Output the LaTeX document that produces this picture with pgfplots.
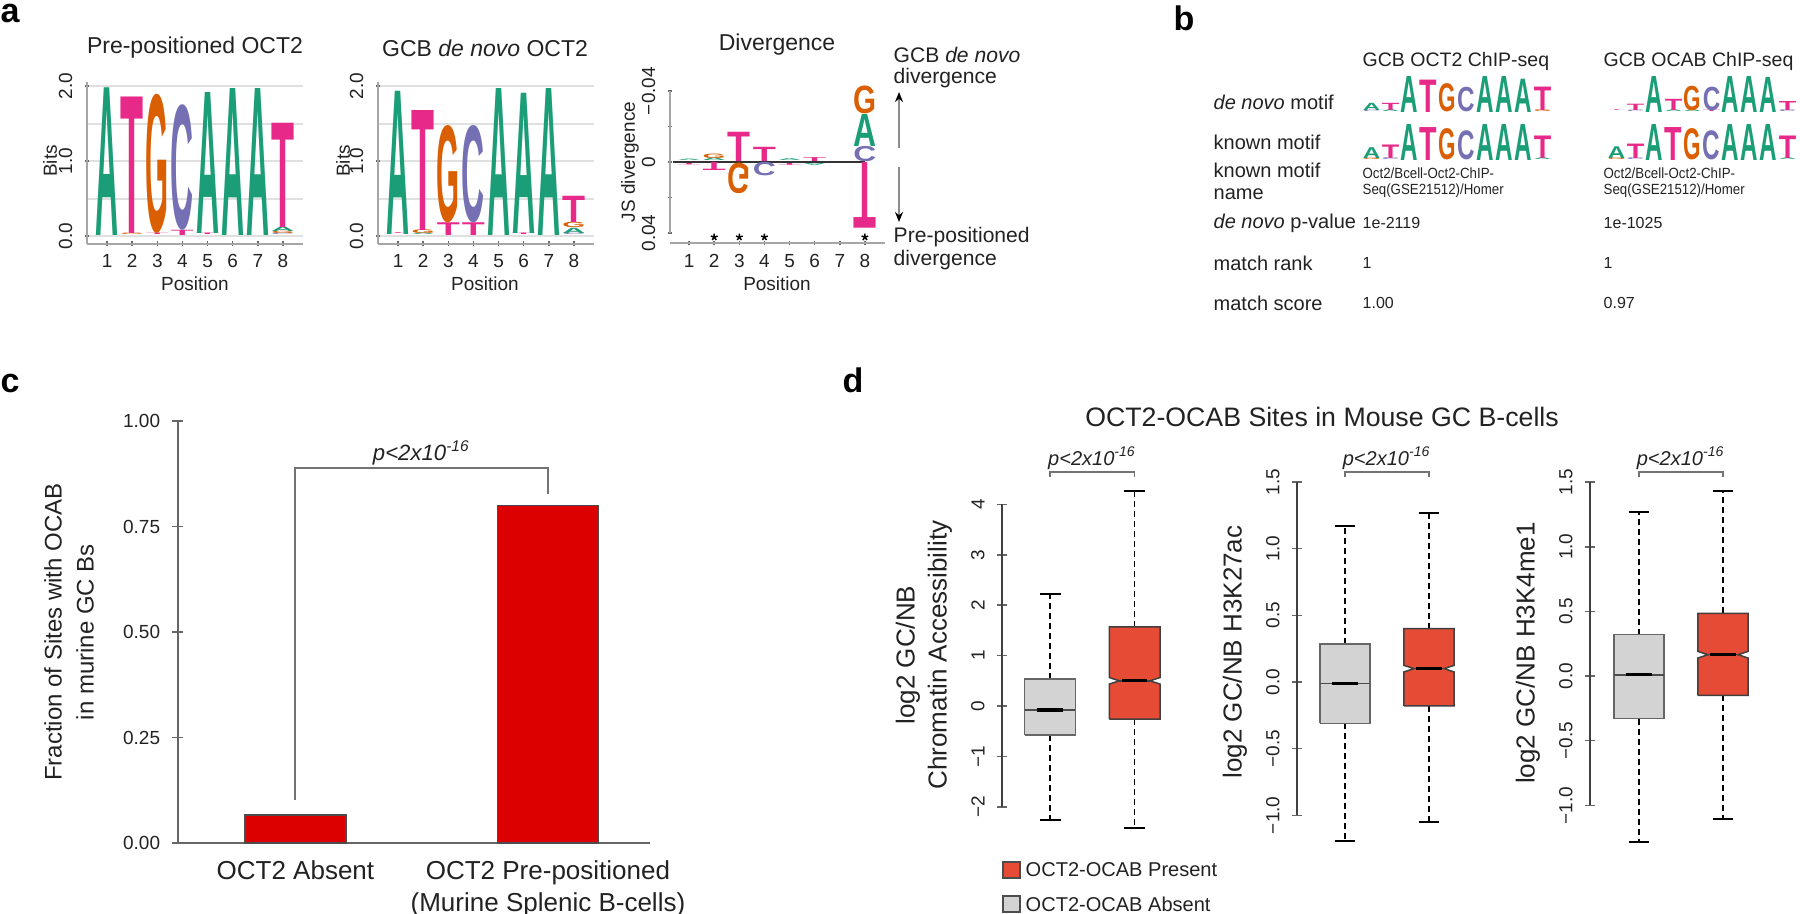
\documentclass[border=0pt]{standalone}
\usepackage{pgfplots}
\pgfplotsset{compat=1.18}
\usepackage{fontspec}
\setmainfont{Liberation Sans}
\usetikzlibrary{arrows.meta}

\definecolor{cA}{HTML}{1B9E77}
\definecolor{cT}{HTML}{E7298A}
\definecolor{cG}{HTML}{D95F02}
\definecolor{cC}{HTML}{7570B3}
\definecolor{barred}{HTML}{DC0000}
\definecolor{boxred}{HTML}{E64B35}
\definecolor{boxgray}{HTML}{D3D3D3}
\definecolor{ink}{HTML}{222222}

\newcommand{\fz}[1]{\fontsize{#1}{#1}\selectfont}
\newlength{\lw}\newlength{\lu}
% letter standing on base
\newcommand{\lup}[4]{\node[inner sep=0pt, anchor=south, text=c#4] at (axis cs:#1,#2) {\resizebox{\lw}{#3\lu}{\bfseries #4}};}
% letter flipped, hanging from base
\newcommand{\ldn}[4]{\node[inner sep=0pt, anchor=north, text=c#4] at (axis cs:#1,#2) {\scalebox{1}[-1]{\resizebox{\lw}{#3\lu}{\bfseries #4}}};}
\newcommand{\pval}{\textit{p<2x10}\textsuperscript{\textit{-16}}}

\pgfplotsset{
  mybase/.style={scale only axis, anchor=south west, clip=false,
    /pgf/number format/assume math mode=true,
    tick label style={font=\fz{5.4}, text=ink},
    tick align=outside, major tick length=0.45mm,
    every tick/.style={black!60, line width=0.15mm}},
  logo/.style={mybase, width=21.6mm, height=16.125mm,
    xmin=0.2, xmax=8.8, ymin=-0.1, ymax=2.05,
    axis x line=bottom, axis y line=left,
    axis line style={black!35, line width=0.2mm, -},
    xtick={1,...,8}, ytick={0,1,2}, minor ytick={0.5,1.5}, minor tick length=0pt,
    ymajorgrids, yminorgrids,
    major grid style={black!12, line width=0.2mm}, minor grid style={black!12, line width=0.2mm},
    xticklabel style={yshift=0.35mm},
    yticklabel style={rotate=90, anchor=south, /pgf/number format/.cd, fixed, fixed zerofill, precision=1}},
  bmotif/.style={scale only axis, anchor=south west, clip=false, hide axis,
    width=19mm, height=3.6mm, xmin=0.5, xmax=10.5, ymin=0, ymax=2},
  dbox/.style={mybase, axis x line=none, axis y line=left,
    y axis line style={draw=none}, major tick length=1.0mm,
    yticklabel style={rotate=90, anchor=south}},
  whisk/.style={black, line width=0.15mm, dash pattern=on 0.6mm off 0.4mm},
  cap/.style={black, line width=0.2mm},
  med/.style={black, line width=0.33mm},
  brk/.style={black!55, line width=0.15mm},
}

\begin{document}
\begin{tikzpicture}[x=0.1mm, y=-0.1mm]
\path[use as bounding box] (0,0) rectangle (1800,913);

% ---------------- panel a ----------------
\node[anchor=base west, inner sep=0, font=\fontsize{9.7}{9.7}\selectfont\bfseries] at (0,22) {a};

\setlength{\lw}{2.3mm}\setlength{\lu}{7.5mm}
\begin{axis}[logo, at={(8.7mm,-24.35mm)}]
\lup{1}{0}{1.97}{A}
\lup{2}{0}{0.02}{G}\lup{2}{0.02}{1.82}{T}
\lup{3}{0}{0.02}{T}\lup{3}{0.02}{1.83}{G}
\lup{4}{0}{0.07}{T}\lup{4}{0.07}{1.65}{C}
\lup{5}{0}{0.02}{T}\lup{5}{0.02}{1.88}{A}
\lup{6}{0}{1.96}{A}
\lup{7}{0}{1.96}{A}
\lup{8}{0}{0.02}{C}\lup{8}{0.02}{0.03}{G}\lup{8}{0.05}{0.06}{A}\lup{8}{0.11}{1.39}{T}
\end{axis}

\begin{axis}[logo, at={(37.8mm,-24.35mm)}]
\lup{1}{0}{0.01}{T}\lup{1}{0.01}{1.91}{A}
\lup{2}{0}{0.02}{A}\lup{2}{0.02}{0.05}{G}\lup{2}{0.07}{1.6}{T}
\lup{3}{0}{0.17}{T}\lup{3}{0.17}{1.28}{G}
\lup{4}{0}{0.17}{T}\lup{4}{0.17}{1.28}{C}
\lup{5}{0}{1.96}{A}
\lup{6}{0}{0.02}{T}\lup{6}{0.02}{1.87}{A}
\lup{7}{0}{1.96}{A}
\lup{8}{0}{0.03}{C}\lup{8}{0.03}{0.07}{A}\lup{8}{0.1}{0.07}{G}\lup{8}{0.17}{0.35}{T}
\end{axis}

% divergence: positive = GCB de novo (up), negative = pre-positioned (down)
\setlength{\lu}{177.5mm}
\begin{axis}[mybase, at={(67mm,-24.3mm)}, width=21.5mm, height=15.73mm,
  xmin=0.24, xmax=8.8, ymin=-0.0456, ymax=0.043,
  axis x line=bottom, axis y line=left,
  x axis line style={black!35, line width=0.2mm, -}, y axis line style={draw=none},
  xtick={1,...,8}, xticklabel style={yshift=0.35mm},
  ytick={-0.04,0,0.04}, yticklabels={0.04,0,−0.04},
  minor ytick={-0.02,0.02}, minor tick length=0.45mm,
  yticklabel style={rotate=90, anchor=south}, scaled y ticks=false]
\addplot[black!35, line width=0.2mm] coordinates {(0.24,-0.04) (0.24,0.04)};
\addplot[black!80, line width=0.15mm] coordinates {(0.36,0) (8,0)};
\lup{1}{0}{0.0008}{A}\ldn{1}{0}{0.0008}{T}
\lup{2}{0}{0.0015}{A}\lup{2}{0.0015}{0.0025}{G}\ldn{2}{0}{0.0045}{T}
\lup{3}{0}{0.0165}{T}\ldn{3}{0}{0.017}{G}
\lup{4}{0}{0.008}{T}\ldn{4}{0}{0.0075}{C}
\lup{5}{0}{0.001}{A}\ldn{5}{0}{0.001}{T}
\lup{6}{0}{0.0022}{T}\ldn{6}{0}{0.001}{A}
\lup{8}{0}{0.0085}{C}\lup{8}{0.0085}{0.018}{A}\lup{8}{0.0265}{0.0155}{G}\ldn{8}{0}{0.037}{T}
\addplot[only marks, mark=star, mark size=0.35mm, black, line width=0.15mm] coordinates {(2,-0.0423) (3,-0.0423) (4,-0.0423) (8,-0.0423)};
\end{axis}

\begin{scope}[font=\fz{6.54}, text=ink]
\node at (195,48) {Pre-positioned OCT2};
\node at (485,48) {GCB \textit{de novo} OCT2};
\node at (777,45) {Divergence};
\end{scope}
\begin{scope}[font=\fz{5.4}, text=ink]
\node at (195,284) {Position};
\node at (485,284) {Position};
\node at (777,284) {Position};
\node[rotate=90] at (50,161) {Bits};
\node[rotate=90] at (343,161) {Bits};
\node[rotate=90] at (630,162) {JS divergence};
\end{scope}
\begin{scope}[font=\fz{6.0}, text=ink, inner sep=0pt]
\node[anchor=west] at (893,55) {GCB \textit{de novo}};
\node[anchor=west] at (893,78) {divergence};
\node[anchor=west] at (893,237) {Pre-positioned};
\node[anchor=west] at (893,260) {divergence};
\end{scope}
\draw[black!45, line width=0.2mm, -{Stealth[black, length=1mm, width=0.8mm]}] (899,148) -- (899,92);
\draw[black!45, line width=0.2mm, -{Stealth[black, length=1mm, width=0.8mm]}] (899,167) -- (899,222);

% ---------------- panel b ----------------
\node[anchor=base west, inner sep=0, font=\fontsize{9.7}{9.7}\selectfont\bfseries] at (1173,30) {b};
\begin{scope}[font=\fz{5.55}, text=ink, inner sep=0pt]
\node[anchor=west] at (1362,61) {GCB OCT2 ChIP-seq};
\node[anchor=west] at (1603,61) {GCB OCAB ChIP-seq};
\end{scope}
\begin{scope}[font=\fz{5.69}, text=ink, inner sep=0pt]
\node[anchor=west] at (1213,102) {\textit{de novo} motif};
\node[anchor=west] at (1213,142) {known motif};
\node[anchor=west] at (1213,170) {known motif};
\node[anchor=west] at (1213,194) {name};
\node[anchor=west] at (1213,223) {\textit{de novo} p-value};
\node[anchor=west] at (1213,263) {match rank};
\node[anchor=west] at (1213,303) {match score};
\end{scope}
\begin{scope}[font=\fz{4.55}, text=ink, inner sep=0pt]
\node[anchor=west] at (1362,223) {1e-2119};
\node[anchor=west] at (1603,223) {1e-1025};
\node[anchor=west] at (1362,263) {1};
\node[anchor=west] at (1603,263) {1};
\node[anchor=west] at (1362,303) {1.00};
\node[anchor=west] at (1603,303) {0.97};
\end{scope}
\begin{scope}[font=\fz{4.2}, text=ink, inner sep=0pt]
\node[anchor=west, xscale=0.9] at (1362,173) {Oct2/Bcell-Oct2-ChIP-};
\node[anchor=west, xscale=0.9] at (1362,191) {Seq(GSE21512)/Homer};
\node[anchor=west, xscale=0.9] at (1603,173) {Oct2/Bcell-Oct2-ChIP-};
\node[anchor=west, xscale=0.9] at (1603,191) {Seq(GSE21512)/Homer};
\end{scope}

\setlength{\lw}{1.75mm}\setlength{\lu}{1.8mm}
\begin{axis}[bmotif, at={(136.2mm,-11.3mm)}]
\lup{1}{0}{0.08}{C}\lup{1}{0.08}{0.4}{A}
\lup{2}{0}{0.1}{A}\lup{2}{0.1}{0.4}{T}
\lup{3}{0}{2.0}{A}
\lup{4}{0}{1.8}{T}
\lup{5}{0}{1.55}{G}
\lup{6}{0}{1.35}{C}
\lup{7}{0}{2.0}{A}
\lup{8}{0}{2.0}{A}
\lup{9}{0}{1.85}{A}
\lup{10}{0}{0.1}{G}\lup{10}{0.1}{1.3}{T}
\end{axis}
\begin{axis}[bmotif, at={(136.2mm,-16.1mm)}]
\lup{1}{0}{0.1}{G}\lup{1}{0.1}{0.6}{A}
\lup{2}{0}{0.1}{C}\lup{2}{0.1}{0.75}{T}
\lup{3}{0}{2.0}{A}
\lup{4}{0}{1.83}{T}
\lup{5}{0}{1.72}{G}
\lup{6}{0}{1.6}{C}
\lup{7}{0}{2.0}{A}
\lup{8}{0}{2.0}{A}
\lup{9}{0}{2.0}{A}
\lup{10}{0}{0.1}{A}\lup{10}{0.1}{1.25}{T}
\end{axis}
\begin{axis}[bmotif, at={(160.7mm,-11.3mm)}]
\lup{1}{0}{0.04}{T}
\lup{2}{0}{0.08}{C}\lup{2}{0.08}{0.35}{T}
\lup{3}{0}{2.0}{A}
\lup{4}{0}{0.1}{A}\lup{4}{0.1}{0.62}{T}
\lup{5}{0}{0.1}{A}\lup{5}{0.1}{1.35}{G}
\lup{6}{0}{0.1}{T}\lup{6}{0.1}{1.3}{C}
\lup{7}{0}{2.0}{A}
\lup{8}{0}{2.0}{A}
\lup{9}{0}{1.95}{A}
\lup{10}{0}{0.1}{C}\lup{10}{0.1}{0.5}{T}
\end{axis}
\begin{axis}[bmotif, at={(160.7mm,-16.1mm)}]
\lup{1}{0}{0.1}{G}\lup{1}{0.1}{0.65}{A}
\lup{2}{0}{0.1}{C}\lup{2}{0.1}{0.8}{T}
\lup{3}{0}{2.0}{A}
\lup{4}{0}{1.83}{T}
\lup{5}{0}{1.72}{G}
\lup{6}{0}{1.6}{C}
\lup{7}{0}{2.0}{A}
\lup{8}{0}{2.0}{A}
\lup{9}{0}{2.0}{A}
\lup{10}{0}{0.1}{A}\lup{10}{0.1}{1.25}{T}
\end{axis}

% ---------------- panel c ----------------
\node[anchor=base west, inner sep=0, font=\fontsize{9.7}{9.7}\selectfont\bfseries] at (0,392) {c};
\begin{axis}[mybase, at={(17.8mm,-84.3mm)}, width=47.2mm, height=42.2mm,
  xmin=-0.465, xmax=1.404, ymin=0, ymax=1,
  axis x line=bottom, axis y line=left,
  axis line style={black!60, line width=0.2mm, -},
  major tick length=1.1mm,
  xtick={0,1}, xticklabels={OCT2 Absent, {OCT2 Pre-positioned\\(Murine Splenic B-cells)}},
  xticklabel style={align=center, font=\fontsize{7.4}{9.1}\selectfont},
  x tick style={draw=none},
  ytick={0,0.25,0.5,0.75,1},
  yticklabel style={/pgf/number format/.cd, fixed, fixed zerofill, precision=2}]
\addplot[ybar, bar width=10.1mm, fill=barred, draw=black!70, line width=0.15mm] coordinates {(0,0.066) (1,0.80)};
\addplot[black!55, line width=0.2mm] coordinates {(0,0.102) (0,0.889) (1,0.889) (1,0.827)};
\node[font=\fz{6.3}, text=ink] at (axis cs:0.5,0.924) {\pval};
\end{axis}
\node[rotate=90, align=center, font=\fontsize{6.83}{9.1}\selectfont, text=ink] at (69,632) {Fraction of Sites with OCAB\\in murine GC Bs};

% ---------------- panel d ----------------
\node[anchor=base west, inner sep=0, font=\fontsize{9.7}{9.7}\selectfont\bfseries] at (842,392) {d};
\node[font=\fz{7.6}, text=ink] at (1322,417) {OCT2-OCAB Sites in Mouse GC B-cells};

\begin{axis}[dbox, at={(100.2mm,-83.7mm)}, width=17.5mm, height=35.78mm,
  xmin=0.433, xmax=2.5, ymin=-2.6, ymax=4.5,
  ytick={-2,-1,0,1,2,3,4}, yticklabels={−2,−1,0,1,2,3,4}]
\addplot[black!75, line width=0.2mm] coordinates {(0.433,-2) (0.433,4)};
\addplot[whisk] coordinates {(1,0.54) (1,2.22)};
\addplot[whisk] coordinates {(1,-0.58) (1,-2.26)};
\addplot[cap] coordinates {(0.876,2.22) (1.124,2.22)};
\addplot[cap] coordinates {(0.876,-2.26) (1.124,-2.26)};
\addplot[fill=boxgray, draw=black!60, line width=0.15mm] coordinates {(0.7,-0.58) (1.3,-0.58) (1.3,0.54) (0.7,0.54) (0.7,-0.58)};
\addplot[black!70, line width=0.15mm] coordinates {(0.7,-0.08) (1.3,-0.08)};
\addplot[med] coordinates {(0.85,-0.08) (1.15,-0.08)};
\addplot[whisk] coordinates {(2,1.57) (2,4.27)};
\addplot[whisk] coordinates {(2,-0.26) (2,-2.42)};
\addplot[cap] coordinates {(1.876,4.27) (2.124,4.27)};
\addplot[cap] coordinates {(1.876,-2.42) (2.124,-2.42)};
\addplot[fill=boxred, draw=black!75, line width=0.15mm] coordinates {(1.7,-0.26) (2.3,-0.26) (2.3,0.435) (2.18,0.5) (2.3,0.565) (2.3,1.57) (1.7,1.57) (1.7,0.565) (1.82,0.5) (1.7,0.435) (1.7,-0.26)};
\addplot[black!75, line width=0.15mm] coordinates {(1.82,0.5) (2.18,0.5)};
\addplot[med] coordinates {(1.85,0.5) (2.15,0.5)};
\addplot[brk] coordinates {(1,4.54) (1,4.64) (2,4.64) (2,4.54)};
\node[font=\fz{5.7}, text=ink] at (axis cs:1.5,4.92) {\pval};
\end{axis}

\begin{axis}[dbox, at={(129.7mm,-84.86mm)}, width=17.4mm, height=38.26mm,
  xmin=0.4286, xmax=2.5, ymin=-1.25, ymax=1.62,
  ytick={-1,-0.5,0,0.5,1,1.5}, yticklabels={−1.0,−0.5,0.0,0.5,1.0,1.5}]
\addplot[black!75, line width=0.2mm] coordinates {(0.4286,-1) (0.4286,1.5)};
\addplot[whisk] coordinates {(1,0.285) (1,1.17)};
\addplot[whisk] coordinates {(1,-0.31) (1,-1.19)};
\addplot[cap] coordinates {(0.876,1.17) (1.124,1.17)};
\addplot[cap] coordinates {(0.876,-1.19) (1.124,-1.19)};
\addplot[fill=boxgray, draw=black!60, line width=0.15mm] coordinates {(0.7,-0.31) (1.3,-0.31) (1.3,0.285) (0.7,0.285) (0.7,-0.31)};
\addplot[black!70, line width=0.15mm] coordinates {(0.7,-0.01) (1.3,-0.01)};
\addplot[med] coordinates {(0.85,-0.01) (1.15,-0.01)};
\addplot[whisk] coordinates {(2,0.40) (2,1.27)};
\addplot[whisk] coordinates {(2,-0.18) (2,-1.05)};
\addplot[cap] coordinates {(1.876,1.27) (2.124,1.27)};
\addplot[cap] coordinates {(1.876,-1.05) (2.124,-1.05)};
\addplot[fill=boxred, draw=black!75, line width=0.15mm] coordinates {(1.7,-0.18) (2.3,-0.18) (2.3,0.075) (2.18,0.10) (2.3,0.125) (2.3,0.40) (1.7,0.40) (1.7,0.125) (1.82,0.10) (1.7,0.075) (1.7,-0.18)};
\addplot[black!75, line width=0.15mm] coordinates {(1.82,0.10) (2.18,0.10)};
\addplot[med] coordinates {(1.85,0.10) (2.15,0.10)};
\addplot[brk] coordinates {(1,1.54) (1,1.575) (2,1.575) (2,1.54)};
\node[font=\fz{5.7}, text=ink] at (axis cs:1.5,1.68) {\pval};
\end{axis}

\begin{axis}[dbox, at={(159mm,-85.06mm)}, width=17.5mm, height=38.4mm,
  xmin=0.4167, xmax=2.5, ymin=-1.35, ymax=1.62,
  ytick={-1,-0.5,0,0.5,1,1.5}, yticklabels={−1.0,−0.5,0.0,0.5,1.0,1.5}]
\addplot[black!75, line width=0.2mm] coordinates {(0.4167,-1) (0.4167,1.5)};
\addplot[whisk] coordinates {(1,0.32) (1,1.27)};
\addplot[whisk] coordinates {(1,-0.33) (1,-1.28)};
\addplot[cap] coordinates {(0.876,1.27) (1.124,1.27)};
\addplot[cap] coordinates {(0.876,-1.28) (1.124,-1.28)};
\addplot[fill=boxgray, draw=black!60, line width=0.15mm] coordinates {(0.7,-0.33) (1.3,-0.33) (1.3,0.32) (0.7,0.32) (0.7,-0.33)};
\addplot[black!70, line width=0.15mm] coordinates {(0.7,0.01) (1.3,0.01)};
\addplot[med] coordinates {(0.85,0.01) (1.15,0.01)};
\addplot[whisk] coordinates {(2,0.485) (2,1.435)};
\addplot[whisk] coordinates {(2,-0.15) (2,-1.105)};
\addplot[cap] coordinates {(1.876,1.435) (2.124,1.435)};
\addplot[cap] coordinates {(1.876,-1.105) (2.124,-1.105)};
\addplot[fill=boxred, draw=black!75, line width=0.15mm] coordinates {(1.7,-0.15) (2.3,-0.15) (2.3,0.139) (2.18,0.165) (2.3,0.191) (2.3,0.485) (1.7,0.485) (1.7,0.191) (1.82,0.165) (1.7,0.139) (1.7,-0.15)};
\addplot[black!75, line width=0.15mm] coordinates {(1.82,0.165) (2.18,0.165)};
\addplot[med] coordinates {(1.85,0.165) (2.15,0.165)};
\addplot[brk] coordinates {(1,1.54) (1,1.578) (2,1.578) (2,1.54)};
\node[font=\fz{5.7}, text=ink] at (axis cs:1.5,1.685) {\pval};
\end{axis}

\begin{scope}[font=\fontsize{7.4}{9.1}\selectfont, text=ink]
\node[rotate=90, align=center] at (924,655) {log2 GC/NB\\Chromatin Accessibility};
\node[rotate=90] at (1235,652) {log2 GC/NB H3K27ac};
\node[rotate=90] at (1528,653) {log2 GC/NB H3K4me1};
\end{scope}

\draw[fill=boxred, draw=black!70, line width=0.15mm] (1003,862) rectangle (1020,878);
\draw[fill=boxgray, draw=black!70, line width=0.15mm] (1003,896) rectangle (1020,912);
\node[anchor=west, inner sep=0pt, font=\fz{5.7}, text=ink] at (1025,870) {OCT2-OCAB Present};
\node[anchor=west, inner sep=0pt, font=\fz{5.7}, text=ink] at (1025,904) {OCT2-OCAB Absent};

\end{tikzpicture}
\end{document}
